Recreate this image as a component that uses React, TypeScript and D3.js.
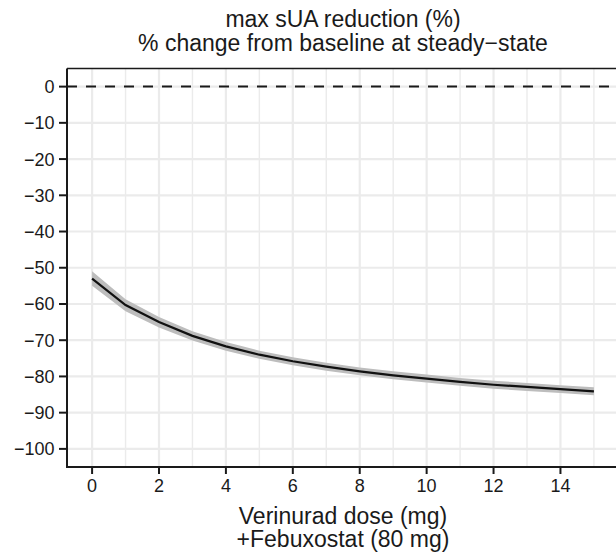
import React from "react";
import * as d3 from "d3";

const doses = [0, 1, 2, 3, 4, 5, 6, 7, 8, 9, 10, 11, 12, 13, 14, 15];
const medianChange = [-53.0, -60.3, -65.0, -68.8, -71.7, -74.0, -75.8, -77.3, -78.6, -79.7, -80.6, -81.5, -82.3, -82.9, -83.5, -84.1];
const lowerChange = [-55.0, -62.0, -66.5, -70.1, -72.9, -75.1, -76.9, -78.4, -79.7, -80.8, -81.7, -82.6, -83.4, -84.0, -84.6, -85.2];
const upperChange = [-51.0, -58.7, -63.6, -67.5, -70.5, -72.9, -74.7, -76.2, -77.5, -78.6, -79.5, -80.4, -81.2, -81.8, -82.4, -83.0];
const xTicks = [0, 2, 4, 6, 8, 10, 12, 14];
const yTicks = [0, -10, -20, -30, -40, -50, -60, -70, -80, -90, -100];
const titleLines = ["max sUA reduction (%)", "% change from baseline at steady\u2212state"];
const xTitleLines = ["Verinurad dose (mg)", "+Febuxostat (80 mg)"];

const W = 616;
const H = 556;
const left = 67;
const right = 619;
const top = 68.5;
const bottom = 467;
const FONT = "'Liberation Sans', Arial, Helvetica, sans-serif";

const fmt = (v: number) => (v < 0 ? "\u2212" + Math.abs(v) : String(v));

export default function App() {
  const x = d3.scaleLinear().domain([-0.75, 15.75]).range([left, right]);
  const y = d3.scaleLinear().domain([-105, 5]).range([bottom, top]);

  const data = doses.map((d, i) => ({ d, m: medianChange[i], lo: lowerChange[i], hi: upperChange[i] }));
  const area = d3
    .area<{ d: number; lo: number; hi: number }>()
    .x((p) => x(p.d))
    .y0((p) => y(p.lo))
    .y1((p) => y(p.hi));
  const line = d3
    .line<{ d: number; m: number }>()
    .x((p) => x(p.d))
    .y((p) => y(p.m));

  const xMinorOdd = d3.range(1, 16, 2);
  const yMinor = d3.range(-105, 5, 10).map((v) => v + 5).filter((v) => v % 10 !== 0);

  return (
    <svg width={W} height={H} style={{ position: "absolute", left: 0, top: 0 }}>
      <rect x={0} y={0} width={W} height={H} fill="#ffffff" />
      <clipPath id="panel">
        <rect x={left} y={top} width={right - left} height={bottom - top} />
      </clipPath>
      <g clipPath="url(#panel)">
        {yMinor.map((v) => (
          <line key={"ym" + v} x1={left} x2={right} y1={y(v)} y2={y(v)} stroke="#ebebeb" strokeWidth={1.4} />
        ))}
        {xMinorOdd.map((v) => (
          <line key={"xm" + v} x1={x(v)} x2={x(v)} y1={top} y2={bottom} stroke="#ebebeb" strokeWidth={1.4} />
        ))}
        {yTicks.map((v) => (
          <line key={"yg" + v} x1={left} x2={right} y1={y(v)} y2={y(v)} stroke="#ebebeb" strokeWidth={2.2} />
        ))}
        {xTicks.map((v) => (
          <line key={"xg" + v} x1={x(v)} x2={x(v)} y1={top} y2={bottom} stroke="#ebebeb" strokeWidth={2.2} />
        ))}
        <path d={area(data) ?? ""} fill="#bdbdbd" />
        <path d={line(data) ?? ""} fill="none" stroke="#111111" strokeWidth={2.2} />
        <line x1={left} x2={right} y1={y(0)} y2={y(0)} stroke="#1a1a1a" strokeWidth={2} strokeDasharray="10 9" />
      </g>
      <line x1={left} x2={W} y1={top} y2={top} stroke="#1a1a1a" strokeWidth={1.3} />
      <line x1={left} x2={left} y1={top} y2={bottom + 1} stroke="#1a1a1a" strokeWidth={2} />
      <line x1={left - 1} x2={W} y1={bottom} y2={bottom} stroke="#1a1a1a" strokeWidth={2} />
      {yTicks.map((v) => (
        <g key={"yt" + v}>
          <line x1={left - 8} x2={left} y1={y(v)} y2={y(v)} stroke="#1a1a1a" strokeWidth={2} />
          <text x={left - 12.5} y={y(v)} dy="0.36em" textAnchor="end" fontFamily={FONT} fontSize={18} fill="#1a1a1a">
            {fmt(v)}
          </text>
        </g>
      ))}
      {xTicks.map((v) => (
        <g key={"xt" + v}>
          <line x1={x(v)} x2={x(v)} y1={bottom} y2={bottom + 7} stroke="#1a1a1a" strokeWidth={2} />
          <text x={x(v)} y={bottom + 25} textAnchor="middle" fontFamily={FONT} fontSize={18} fill="#1a1a1a">
            {fmt(v)}
          </text>
        </g>
      ))}
      {titleLines.map((t, i) => (
        <text key={"t" + i} x={(left + right) / 2} y={27 + i * 24} textAnchor="middle" fontFamily={FONT} fontSize={23} fill="#1a1a1a">
          {t}
        </text>
      ))}
      {xTitleLines.map((t, i) => (
        <text key={"xl" + i} x={(left + right) / 2} y={524 + i * 23} textAnchor="middle" fontFamily={FONT} fontSize={23} fill="#1a1a1a">
          {t}
        </text>
      ))}
    </svg>
  );
}
